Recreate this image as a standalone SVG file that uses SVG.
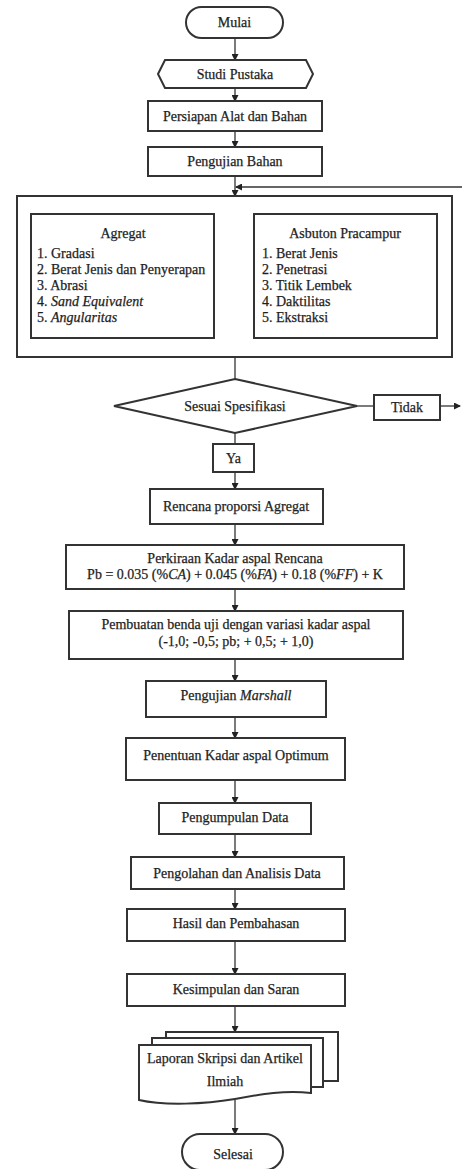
<svg xmlns="http://www.w3.org/2000/svg" width="462" height="1169" viewBox="0 0 462 1169">
<defs>
<marker id="ah" markerWidth="7" markerHeight="7" refX="6" refY="3.5" orient="auto" markerUnits="userSpaceOnUse">
<path d="M0,0 L7,3.5 L0,7 Z" fill="#222"/>
</marker>
<style>
.b{fill:#fff;stroke:#333;stroke-width:2}
.t{font-family:"Liberation Serif","Times New Roman",serif;font-size:14px;fill:#1e1e1e;stroke:#1e1e1e;stroke-width:0.25;text-anchor:middle}
.l{font-family:"Liberation Serif","Times New Roman",serif;font-size:14px;fill:#1e1e1e;stroke:#1e1e1e;stroke-width:0.25}
.c{fill:none;stroke:#333;stroke-width:1.3}
.a{marker-end:url(#ah)}
</style>
</defs>
<rect width="462" height="1169" fill="#fff"/>
<g id="connectors">
<line class="c a" x1="235" y1="38" x2="235" y2="60"/>
<line class="c a" x1="235" y1="88" x2="235" y2="101"/>
<line class="c a" x1="235" y1="131" x2="235" y2="147"/>
<line class="c a" x1="235" y1="176" x2="235" y2="196"/>
<line class="c a" x1="462" y1="187" x2="236" y2="187"/>
<line class="c" x1="123" y1="206" x2="343" y2="206"/>
<line class="c a" x1="123" y1="206" x2="123" y2="214"/>
<line class="c a" x1="343" y1="206" x2="343" y2="214"/>
<line class="c" x1="235" y1="357" x2="235" y2="379"/>
<line class="c" x1="357" y1="406" x2="374" y2="406"/>
<line class="c a" x1="440" y1="406" x2="460" y2="406"/>
<line class="c" x1="235" y1="433" x2="235" y2="444"/>
<line class="c a" x1="235" y1="472" x2="235" y2="489"/>
<line class="c a" x1="235" y1="524" x2="235" y2="545"/>
<line class="c a" x1="235" y1="589" x2="235" y2="611"/>
<line class="c a" x1="235" y1="659" x2="235" y2="681"/>
<line class="c a" x1="235" y1="717" x2="235" y2="738"/>
<line class="c a" x1="235" y1="780" x2="235" y2="803"/>
<line class="c a" x1="235" y1="834" x2="235" y2="857"/>
<line class="c a" x1="235" y1="889" x2="235" y2="909"/>
<line class="c a" x1="235" y1="941" x2="235" y2="974"/>
<line class="c a" x1="235" y1="1006" x2="235" y2="1032"/>
<line class="c a" x1="235" y1="1100" x2="235" y2="1134"/>
</g>
<g id="mulai">
<rect class="b" x="186" y="7" width="97" height="31" rx="15.5"/>
<text class="t" x="234.5" y="27">Mulai</text>
</g>
<g id="studi">
<polygon class="b" points="158,74 165,60 306,60 313,74 306,88 165,88"/>
<text class="t" x="235" y="79">Studi Pustaka</text>
</g>
<g id="persiapan">
<rect class="b" x="148" y="101" width="174" height="30"/>
<text class="t" x="235" y="121">Persiapan Alat dan Bahan</text>
</g>
<g id="pengujian-bahan">
<rect class="b" x="148" y="147" width="174" height="29"/>
<text class="t" x="235" y="166">Pengujian Bahan</text>
</g>
<g id="pengujian-group">
<rect class="b" x="17" y="196" width="435" height="161"/>
</g>
<g id="agregat">
<rect class="b" x="31" y="214" width="183" height="124"/>
<text class="t" x="123" y="238">Agregat</text>
<text class="l" x="37" y="258">1. Gradasi</text>
<text class="l" x="37" y="274">2. Berat Jenis dan Penyerapan</text>
<text class="l" x="37" y="290">3. Abrasi</text>
<text class="l" x="37" y="306">4. <tspan font-style="italic">Sand Equivalent</tspan></text>
<text class="l" x="37" y="322">5. <tspan font-style="italic">Angularitas</tspan></text>
</g>
<g id="asbuton">
<rect class="b" x="254" y="214" width="183" height="124"/>
<text class="t" x="345" y="238">Asbuton Pracampur</text>
<text class="l" x="262" y="258">1. Berat Jenis</text>
<text class="l" x="262" y="274">2. Penetrasi</text>
<text class="l" x="262" y="290">3. Titik Lembek</text>
<text class="l" x="262" y="306">4. Daktilitas</text>
<text class="l" x="262" y="322">5. Ekstraksi</text>
</g>
<g id="sesuai">
<polygon class="b" points="235,379 357,406 235,433 114,406"/>
<text class="t" x="235" y="411">Sesuai Spesifikasi</text>
</g>
<g id="tidak">
<rect class="b" x="374" y="395" width="66" height="25"/>
<text class="t" x="407" y="412">Tidak</text>
</g>
<g id="ya">
<rect class="b" x="213" y="444" width="41" height="28"/>
<text class="t" x="233.5" y="463">Ya</text>
</g>
<g id="rencana">
<rect class="b" x="150" y="489" width="173" height="35"/>
<text class="t" x="236" y="511">Rencana proporsi Agregat</text>
</g>
<g id="perkiraan">
<rect class="b" x="66" y="545" width="338" height="44"/>
<text class="t" x="235" y="563">Perkiraan Kadar aspal Rencana</text>
<text class="t" x="235" y="579">Pb = 0.035 (%<tspan font-style="italic">CA</tspan>) + 0.045 (%<tspan font-style="italic">FA</tspan>) + 0.18 (%<tspan font-style="italic">FF</tspan>) + K</text>
</g>
<g id="pembuatan">
<rect class="b" x="69" y="611" width="334" height="48"/>
<text class="t" x="236" y="629">Pembuatan benda uji dengan variasi kadar aspal</text>
<text class="t" x="236" y="646">(-1,0; -0,5; pb; + 0,5; + 1,0)</text>
</g>
<g id="marshall">
<rect class="b" x="146" y="681" width="180" height="36"/>
<text class="t" x="236" y="700">Pengujian <tspan font-style="italic">Marshall</tspan></text>
</g>
<g id="penentuan">
<rect class="b" x="126" y="738" width="219" height="42"/>
<text class="t" x="236" y="760">Penentuan Kadar aspal Optimum</text>
</g>
<g id="pengumpulan">
<rect class="b" x="159" y="803" width="152" height="31"/>
<text class="t" x="235" y="822">Pengumpulan Data</text>
</g>
<g id="pengolahan">
<rect class="b" x="131" y="857" width="213" height="32"/>
<text class="t" x="237" y="878">Pengolahan dan Analisis Data</text>
</g>
<g id="hasil">
<rect class="b" x="127" y="909" width="218" height="32"/>
<text class="t" x="236" y="928">Hasil dan Pembahasan</text>
</g>
<g id="kesimpulan">
<rect class="b" x="127" y="974" width="218" height="32"/>
<text class="t" x="236" y="994">Kesimpulan dan Saran</text>
</g>
<g id="laporan">
<path class="b" d="M166,1038 V1032 H338 V1081 H323"/>
<path class="b" d="M152,1045 V1038 H323 V1087 H311"/>
<path class="b" d="M139,1045 H311 V1093 C285,1090 262,1094 235,1099 C205,1104 165,1106 139,1100 Z"/>
<text class="t" x="225" y="1063">Laporan Skripsi dan Artikel</text>
<text class="t" x="225" y="1086">Ilmiah</text>
</g>
<g id="selesai">
<rect class="b" x="182" y="1134" width="101" height="36" rx="18"/>
<text class="t" x="233" y="1159">Selesai</text>
</g>
</svg>
